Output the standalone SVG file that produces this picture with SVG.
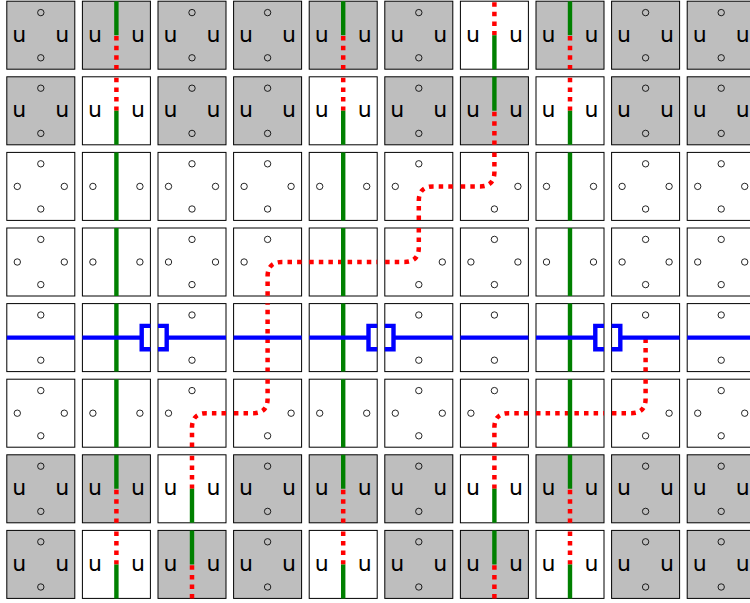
<svg xmlns="http://www.w3.org/2000/svg" width="750" height="603" viewBox="0 0 750 603">
<style>
rect{width:68px;height:68px;stroke:#000;stroke-width:1px;fill:#fff}
rect.g{fill:#bebebe}
circle{r:3.2px;fill:none;stroke:#000;stroke-width:.85px}
text{font-family:"DejaVu Sans",sans-serif;font-size:22px;text-anchor:middle;fill:#000}
#connectors path{fill:none}
.v{stroke:#008000;stroke-width:4.4px}
.b{stroke:#00f;stroke-width:4.4px}
.r{stroke:#f00;stroke-width:4.5px;stroke-dasharray:4.5 5.1}
</style>
<rect x="-10" y="-10" style="width:770px;height:623px;stroke:none"/>
<g id="nodes">
<g id="n0-0" transform="translate(6.8 1.2)"><rect class="g"/><circle cx="34" cy="11.4"/><circle cx="34" cy="56.6"/><text x="12.5" y="40.5">u</text><text x="55.5" y="40.5">u</text></g>
<g id="n0-1" transform="translate(82.4 1.2)"><rect class="g"/><text x="12.5" y="40.5">u</text><text x="55.5" y="40.5">u</text></g>
<g id="n0-2" transform="translate(158 1.2)"><rect class="g"/><circle cx="34" cy="11.4"/><circle cx="34" cy="56.6"/><text x="12.5" y="40.5">u</text><text x="55.5" y="40.5">u</text></g>
<g id="n0-3" transform="translate(233.6 1.2)"><rect class="g"/><circle cx="34" cy="11.4"/><circle cx="34" cy="56.6"/><text x="12.5" y="40.5">u</text><text x="55.5" y="40.5">u</text></g>
<g id="n0-4" transform="translate(309.2 1.2)"><rect class="g"/><text x="12.5" y="40.5">u</text><text x="55.5" y="40.5">u</text></g>
<g id="n0-5" transform="translate(384.8 1.2)"><rect class="g"/><circle cx="34" cy="11.4"/><circle cx="34" cy="56.6"/><text x="12.5" y="40.5">u</text><text x="55.5" y="40.5">u</text></g>
<g id="n0-6" transform="translate(460.4 1.2)"><rect/><text x="12.5" y="40.5">u</text><text x="55.5" y="40.5">u</text></g>
<g id="n0-7" transform="translate(536 1.2)"><rect class="g"/><text x="12.5" y="40.5">u</text><text x="55.5" y="40.5">u</text></g>
<g id="n0-8" transform="translate(611.6 1.2)"><rect class="g"/><circle cx="34" cy="11.4"/><circle cx="34" cy="56.6"/><text x="12.5" y="40.5">u</text><text x="55.5" y="40.5">u</text></g>
<g id="n0-9" transform="translate(687.2 1.2)"><rect class="g"/><circle cx="34" cy="11.4"/><circle cx="34" cy="56.6"/><text x="12.5" y="40.5">u</text><text x="55.5" y="40.5">u</text></g>

<g id="n1-0" transform="translate(6.8 76.8)"><rect class="g"/><circle cx="34" cy="11.4"/><circle cx="34" cy="56.6"/><text x="12.5" y="40.5">u</text><text x="55.5" y="40.5">u</text></g>
<g id="n1-1" transform="translate(82.4 76.8)"><rect/><text x="12.5" y="40.5">u</text><text x="55.5" y="40.5">u</text></g>
<g id="n1-2" transform="translate(158 76.8)"><rect class="g"/><circle cx="34" cy="11.4"/><circle cx="34" cy="56.6"/><text x="12.5" y="40.5">u</text><text x="55.5" y="40.5">u</text></g>
<g id="n1-3" transform="translate(233.6 76.8)"><rect class="g"/><circle cx="34" cy="11.4"/><circle cx="34" cy="56.6"/><text x="12.5" y="40.5">u</text><text x="55.5" y="40.5">u</text></g>
<g id="n1-4" transform="translate(309.2 76.8)"><rect/><text x="12.5" y="40.5">u</text><text x="55.5" y="40.5">u</text></g>
<g id="n1-5" transform="translate(384.8 76.8)"><rect class="g"/><circle cx="34" cy="11.4"/><circle cx="34" cy="56.6"/><text x="12.5" y="40.5">u</text><text x="55.5" y="40.5">u</text></g>
<g id="n1-6" transform="translate(460.4 76.8)"><rect class="g"/><text x="12.5" y="40.5">u</text><text x="55.5" y="40.5">u</text></g>
<g id="n1-7" transform="translate(536 76.8)"><rect/><text x="12.5" y="40.5">u</text><text x="55.5" y="40.5">u</text></g>
<g id="n1-8" transform="translate(611.6 76.8)"><rect class="g"/><circle cx="34" cy="11.4"/><circle cx="34" cy="56.6"/><text x="12.5" y="40.5">u</text><text x="55.5" y="40.5">u</text></g>
<g id="n1-9" transform="translate(687.2 76.8)"><rect class="g"/><circle cx="34" cy="11.4"/><circle cx="34" cy="56.6"/><text x="12.5" y="40.5">u</text><text x="55.5" y="40.5">u</text></g>

<g id="n2-0" transform="translate(6.8 152.4)"><rect/><circle cx="34" cy="11.4"/><circle cx="34" cy="56.6"/><circle cx="10.5" cy="34"/><circle cx="57.5" cy="34"/></g>
<g id="n2-1" transform="translate(82.4 152.4)"><rect/><circle cx="10.5" cy="34"/><circle cx="57.5" cy="34"/></g>
<g id="n2-2" transform="translate(158 152.4)"><rect/><circle cx="34" cy="11.4"/><circle cx="34" cy="56.6"/><circle cx="10.5" cy="34"/><circle cx="57.5" cy="34"/></g>
<g id="n2-3" transform="translate(233.6 152.4)"><rect/><circle cx="34" cy="11.4"/><circle cx="34" cy="56.6"/><circle cx="10.5" cy="34"/><circle cx="57.5" cy="34"/></g>
<g id="n2-4" transform="translate(309.2 152.4)"><rect/><circle cx="10.5" cy="34"/><circle cx="57.5" cy="34"/></g>
<g id="n2-5" transform="translate(384.8 152.4)"><rect/><circle cx="34" cy="11.4"/><circle cx="10.5" cy="34"/></g>
<g id="n2-6" transform="translate(460.4 152.4)"><rect/><circle cx="34" cy="56.6"/><circle cx="57.5" cy="34"/></g>
<g id="n2-7" transform="translate(536 152.4)"><rect/><circle cx="10.5" cy="34"/><circle cx="57.5" cy="34"/></g>
<g id="n2-8" transform="translate(611.6 152.4)"><rect/><circle cx="34" cy="11.4"/><circle cx="34" cy="56.6"/><circle cx="10.5" cy="34"/><circle cx="57.5" cy="34"/></g>
<g id="n2-9" transform="translate(687.2 152.4)"><rect/><circle cx="34" cy="11.4"/><circle cx="34" cy="56.6"/><circle cx="10.5" cy="34"/><circle cx="57.5" cy="34"/></g>

<g id="n3-0" transform="translate(6.8 228)"><rect/><circle cx="34" cy="11.4"/><circle cx="34" cy="56.6"/><circle cx="10.5" cy="34"/><circle cx="57.5" cy="34"/></g>
<g id="n3-1" transform="translate(82.4 228)"><rect/><circle cx="10.5" cy="34"/><circle cx="57.5" cy="34"/></g>
<g id="n3-2" transform="translate(158 228)"><rect/><circle cx="34" cy="11.4"/><circle cx="34" cy="56.6"/><circle cx="10.5" cy="34"/><circle cx="57.5" cy="34"/></g>
<g id="n3-3" transform="translate(233.6 228)"><rect/><circle cx="34" cy="11.4"/><circle cx="10.5" cy="34"/></g>
<g id="n3-4" transform="translate(309.2 228)"><rect/></g>
<g id="n3-5" transform="translate(384.8 228)"><rect/><circle cx="34" cy="56.6"/><circle cx="57.5" cy="34"/></g>
<g id="n3-6" transform="translate(460.4 228)"><rect/><circle cx="34" cy="11.4"/><circle cx="34" cy="56.6"/><circle cx="10.5" cy="34"/><circle cx="57.5" cy="34"/></g>
<g id="n3-7" transform="translate(536 228)"><rect/><circle cx="10.5" cy="34"/><circle cx="57.5" cy="34"/></g>
<g id="n3-8" transform="translate(611.6 228)"><rect/><circle cx="34" cy="11.4"/><circle cx="34" cy="56.6"/><circle cx="10.5" cy="34"/><circle cx="57.5" cy="34"/></g>
<g id="n3-9" transform="translate(687.2 228)"><rect/><circle cx="34" cy="11.4"/><circle cx="34" cy="56.6"/><circle cx="10.5" cy="34"/><circle cx="57.5" cy="34"/></g>

<g id="n4-0" transform="translate(6.8 303.6)"><rect/><circle cx="34" cy="11.4"/><circle cx="34" cy="56.6"/></g>
<g id="n4-1" transform="translate(82.4 303.6)"><rect/></g>
<g id="n4-2" transform="translate(158 303.6)"><rect/><circle cx="34" cy="11.4"/><circle cx="34" cy="56.6"/></g>
<g id="n4-3" transform="translate(233.6 303.6)"><rect/></g>
<g id="n4-4" transform="translate(309.2 303.6)"><rect/></g>
<g id="n4-5" transform="translate(384.8 303.6)"><rect/><circle cx="34" cy="11.4"/><circle cx="34" cy="56.6"/></g>
<g id="n4-6" transform="translate(460.4 303.6)"><rect/><circle cx="34" cy="11.4"/><circle cx="34" cy="56.6"/></g>
<g id="n4-7" transform="translate(536 303.6)"><rect/></g>
<g id="n4-8" transform="translate(611.6 303.6)"><rect/><circle cx="34" cy="11.4"/></g>
<g id="n4-9" transform="translate(687.2 303.6)"><rect/><circle cx="34" cy="11.4"/><circle cx="34" cy="56.6"/></g>

<g id="n5-0" transform="translate(6.8 379.2)"><rect/><circle cx="34" cy="11.4"/><circle cx="34" cy="56.6"/><circle cx="10.5" cy="34"/><circle cx="57.5" cy="34"/></g>
<g id="n5-1" transform="translate(82.4 379.2)"><rect/><circle cx="10.5" cy="34"/><circle cx="57.5" cy="34"/></g>
<g id="n5-2" transform="translate(158 379.2)"><rect/><circle cx="34" cy="11.4"/><circle cx="10.5" cy="34"/></g>
<g id="n5-3" transform="translate(233.6 379.2)"><rect/><circle cx="34" cy="56.6"/><circle cx="57.5" cy="34"/></g>
<g id="n5-4" transform="translate(309.2 379.2)"><rect/><circle cx="10.5" cy="34"/><circle cx="57.5" cy="34"/></g>
<g id="n5-5" transform="translate(384.8 379.2)"><rect/><circle cx="34" cy="11.4"/><circle cx="34" cy="56.6"/><circle cx="10.5" cy="34"/><circle cx="57.5" cy="34"/></g>
<g id="n5-6" transform="translate(460.4 379.2)"><rect/><circle cx="34" cy="11.4"/><circle cx="10.5" cy="34"/></g>
<g id="n5-7" transform="translate(536 379.2)"><rect/></g>
<g id="n5-8" transform="translate(611.6 379.2)"><rect/><circle cx="34" cy="56.6"/><circle cx="57.5" cy="34"/></g>
<g id="n5-9" transform="translate(687.2 379.2)"><rect/><circle cx="34" cy="11.4"/><circle cx="34" cy="56.6"/><circle cx="10.5" cy="34"/><circle cx="57.5" cy="34"/></g>

<g id="n6-0" transform="translate(6.8 454.8)"><rect class="g"/><circle cx="34" cy="11.4"/><circle cx="34" cy="56.6"/><text x="12.5" y="40.5">u</text><text x="55.5" y="40.5">u</text></g>
<g id="n6-1" transform="translate(82.4 454.8)"><rect class="g"/><text x="12.5" y="40.5">u</text><text x="55.5" y="40.5">u</text></g>
<g id="n6-2" transform="translate(158 454.8)"><rect/><text x="12.5" y="40.5">u</text><text x="55.5" y="40.5">u</text></g>
<g id="n6-3" transform="translate(233.6 454.8)"><rect class="g"/><circle cx="34" cy="11.4"/><circle cx="34" cy="56.6"/><text x="12.5" y="40.5">u</text><text x="55.5" y="40.5">u</text></g>
<g id="n6-4" transform="translate(309.2 454.8)"><rect class="g"/><text x="12.5" y="40.5">u</text><text x="55.5" y="40.5">u</text></g>
<g id="n6-5" transform="translate(384.8 454.8)"><rect class="g"/><circle cx="34" cy="11.4"/><circle cx="34" cy="56.6"/><text x="12.5" y="40.5">u</text><text x="55.5" y="40.5">u</text></g>
<g id="n6-6" transform="translate(460.4 454.8)"><rect/><text x="12.5" y="40.5">u</text><text x="55.5" y="40.5">u</text></g>
<g id="n6-7" transform="translate(536 454.8)"><rect class="g"/><text x="12.5" y="40.5">u</text><text x="55.5" y="40.5">u</text></g>
<g id="n6-8" transform="translate(611.6 454.8)"><rect class="g"/><circle cx="34" cy="11.4"/><circle cx="34" cy="56.6"/><text x="12.5" y="40.5">u</text><text x="55.5" y="40.5">u</text></g>
<g id="n6-9" transform="translate(687.2 454.8)"><rect class="g"/><circle cx="34" cy="11.4"/><circle cx="34" cy="56.6"/><text x="12.5" y="40.5">u</text><text x="55.5" y="40.5">u</text></g>

<g id="n7-0" transform="translate(6.8 530.4)"><rect class="g"/><circle cx="34" cy="11.4"/><circle cx="34" cy="56.6"/><text x="12.5" y="40.5">u</text><text x="55.5" y="40.5">u</text></g>
<g id="n7-1" transform="translate(82.4 530.4)"><rect/><text x="12.5" y="40.5">u</text><text x="55.5" y="40.5">u</text></g>
<g id="n7-2" transform="translate(158 530.4)"><rect class="g"/><text x="12.5" y="40.5">u</text><text x="55.5" y="40.5">u</text></g>
<g id="n7-3" transform="translate(233.6 530.4)"><rect class="g"/><circle cx="34" cy="11.4"/><circle cx="34" cy="56.6"/><text x="12.5" y="40.5">u</text><text x="55.5" y="40.5">u</text></g>
<g id="n7-4" transform="translate(309.2 530.4)"><rect/><text x="12.5" y="40.5">u</text><text x="55.5" y="40.5">u</text></g>
<g id="n7-5" transform="translate(384.8 530.4)"><rect class="g"/><circle cx="34" cy="11.4"/><circle cx="34" cy="56.6"/><text x="12.5" y="40.5">u</text><text x="55.5" y="40.5">u</text></g>
<g id="n7-6" transform="translate(460.4 530.4)"><rect class="g"/><text x="12.5" y="40.5">u</text><text x="55.5" y="40.5">u</text></g>
<g id="n7-7" transform="translate(536 530.4)"><rect/><text x="12.5" y="40.5">u</text><text x="55.5" y="40.5">u</text></g>
<g id="n7-8" transform="translate(611.6 530.4)"><rect class="g"/><circle cx="34" cy="11.4"/><circle cx="34" cy="56.6"/><text x="12.5" y="40.5">u</text><text x="55.5" y="40.5">u</text></g>
<g id="n7-9" transform="translate(687.2 530.4)"><rect class="g"/><circle cx="34" cy="11.4"/><circle cx="34" cy="56.6"/><text x="12.5" y="40.5">u</text><text x="55.5" y="40.5">u</text></g>
</g>
<g id="connectors">
<g id="red">
<path class="r" d="M116.4 36.1V69.2M343.2 36.1V69.2M570 36.1V69.2M494.4 2.2V35.2"/>
<path class="r" d="M116.4 77.8V110.8M343.2 77.8V110.8M570 77.8V110.8M494.4 111.7V144.8"/>
<path class="r" d="M116.4 489.7V522.8M343.2 489.7V522.8M570 489.7V522.8M192 455.8V488.8M494.4 455.8V488.8"/>
<path class="r" d="M116.4 531.4V564.4M343.2 531.4V564.4M570 531.4V564.4M192 565.3V598.4M494.4 565.3V598.4"/>
<path class="r" d="M494.4 152.4V172Q494.4 186.4 480 186.4H460.4"/>
<path class="r" d="M452.8 186.4H433.2Q418.8 186.4 418.8 200.8V220.4"/>
<path class="r" d="M418.8 228V247.6Q418.8 262 404.4 262H384.8"/>
<path class="r" d="M309.2 262H377.2"/>
<path class="r" d="M301.6 262H282Q267.6 262 267.6 276.4V296"/>
<path class="r" d="M267.6 303.6V371.6" stroke-dashoffset="3.4"/>
<path class="r" d="M267.6 379.2V398.8Q267.6 413.2 253.2 413.2H233.6"/>
<path class="r" d="M226 413.2H206.4Q192 413.2 192 427.6V447.2"/>
<path class="r" d="M645.6 338.5V371.6"/>
<path class="r" d="M645.6 379.2V398.8Q645.6 413.2 631.2 413.2H611.6"/>
<path class="r" d="M536 413.2H604"/>
<path class="r" d="M528.4 413.2H508.8Q494.4 413.2 494.4 427.6V447.2"/>
</g>
<g id="green">
<path class="v" d="M116.4 1.2V35.2M343.2 1.2V35.2M570 1.2V35.2M494.4 35.2V69.2"/>
<path class="v" d="M116.4 110.8V144.8M343.2 110.8V144.8M570 110.8V144.8M494.4 76.8V110.8"/>
<path class="v" d="M116.4 152.4V220.4M343.2 152.4V220.4M570 152.4V220.4"/>
<path class="v" d="M116.4 228V296M343.2 228V296M570 228V296"/>
<path class="v" d="M116.4 303.6V371.6M343.2 303.6V371.6M570 303.6V371.6"/>
<path class="v" d="M116.4 379.2V447.2M343.2 379.2V447.2M570 379.2V447.2"/>
<path class="v" d="M116.4 454.8V488.8M343.2 454.8V488.8M570 454.8V488.8M192 488.8V522.8M494.4 488.8V522.8"/>
<path class="v" d="M116.4 564.4V598.4M343.2 564.4V598.4M570 564.4V598.4M192 530.4V564.4M494.4 530.4V564.4"/>
</g>
<g id="blue">
<path class="b" d="M6.8 337.6H74.8"/>
<path class="b" d="M82.4 337.6H141.7M150.4 325.9H141.7V349.3H150.4"/>
<path class="b" d="M158 325.9H166.7V349.3H158M166.7 337.6H226"/>
<path class="b" d="M233.6 337.6H301.6"/>
<path class="b" d="M309.2 337.6H368.5M377.2 325.9H368.5V349.3H377.2"/>
<path class="b" d="M384.8 325.9H393.5V349.3H384.8M393.5 337.6H452.8"/>
<path class="b" d="M460.4 337.6H528.4"/>
<path class="b" d="M536 337.6H595.3M604 325.9H595.3V349.3H604"/>
<path class="b" d="M611.6 325.9H620.3V349.3H611.6M620.3 337.6H679.6"/>
<path class="b" d="M687.2 337.6H755"/>
</g>
</g>
</svg>
